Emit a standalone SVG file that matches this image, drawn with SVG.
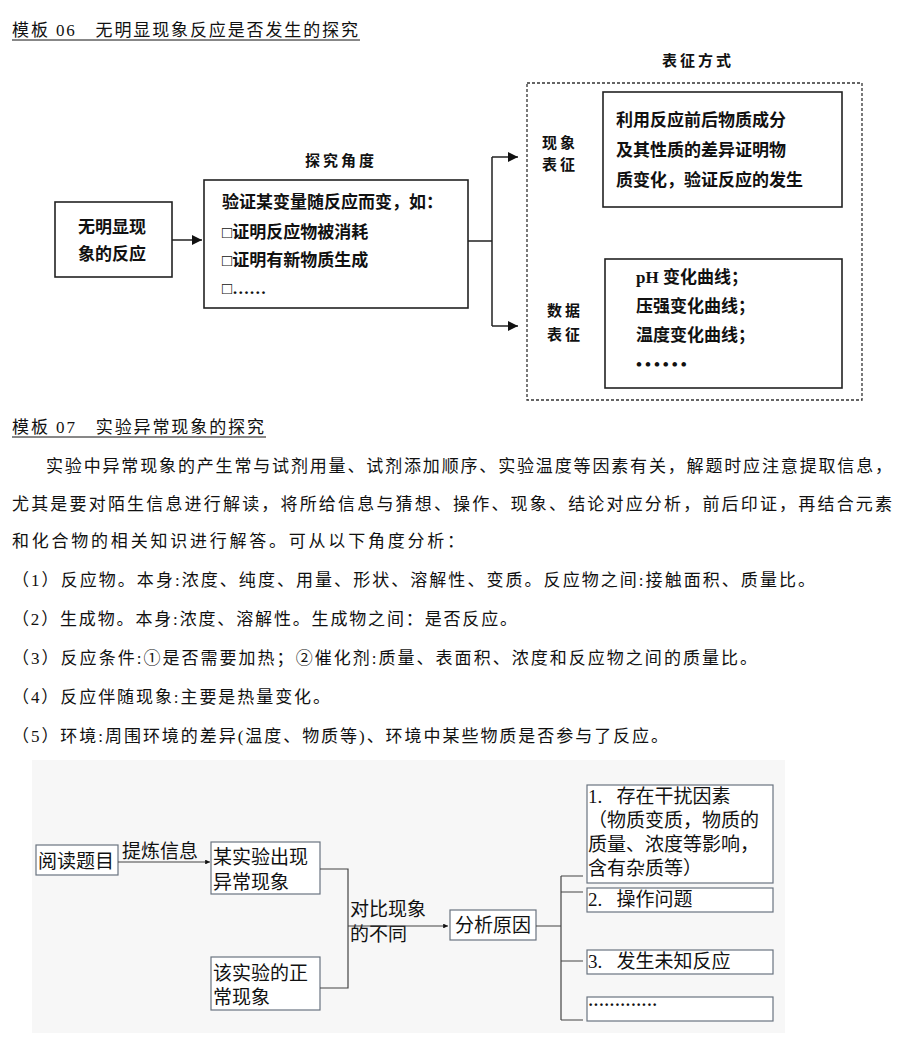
<svg xmlns="http://www.w3.org/2000/svg" width="912" height="1046" viewBox="0 0 912 1046">
<defs>
<style>
text{font-family:"Liberation Serif","Noto Sans CJK SC",serif;fill:#111}
.t{font-size:17px}
.b{font-size:17px;font-weight:bold}
.s{font-size:15px;font-weight:bold}
.box{fill:#fff;stroke:#222;stroke-width:1.6}
.gbox{fill:#fff;stroke:#6a7480;stroke-width:1.2}
.ln{fill:none;stroke:#222;stroke-width:1.5}
.gl{fill:none;stroke:#444;stroke-width:1.2}
</style>
<marker id="ar" viewBox="0 0 10 10" refX="10" refY="5" markerWidth="7" markerHeight="7" orient="auto"><path d="M0,0L10,5L0,10z" fill="#111"/></marker>
<marker id="as" viewBox="0 0 10 10" refX="10" refY="5" markerWidth="4" markerHeight="4" orient="auto"><path d="M0,0L10,5L0,10z" fill="#111"/></marker>
</defs>
<rect width="912" height="1046" fill="#fff"/>
<text class="t" x="12" y="36" textLength="346" lengthAdjust="spacing">模板 06　无明显现象反应是否发生的探究</text>
<line x1="12" y1="40" x2="360" y2="40" stroke="#111"/>
<text class="s" x="305" y="166" letter-spacing="3">探究角度</text>
<text class="s" x="662" y="66" letter-spacing="3">表征方式</text>

<g id="n1"><rect class="box" x="55" y="202" width="117" height="75"/><text class="b" x="78" y="233">无明显现</text><text class="b" x="78" y="260">象的反应</text></g>
<g id="n2"><rect class="box" x="204" y="180" width="264" height="128"/>
<text class="b" x="222" y="208">验证某变量随反应而变，如：</text>
<text class="b" x="222" y="238">□证明反应物被消耗</text>
<text class="b" x="222" y="266">□证明有新物质生成</text>
<text class="b" x="222" y="294">□……</text></g>
<g id="n3"><rect x="527" y="83" width="335" height="317" fill="none" stroke="#333" stroke-width="1.3" stroke-dasharray="3,2"/>
<text class="s" x="542" y="148" letter-spacing="3">现象</text><text class="s" x="542" y="170" letter-spacing="3">表征</text>
<text class="s" x="547" y="316" letter-spacing="3">数据</text><text class="s" x="547" y="340" letter-spacing="3">表征</text></g>
<g id="n4"><rect class="box" x="603" y="92" width="239" height="115"/>
<text class="b" x="616" y="126">利用反应前后物质成分</text>
<text class="b" x="616" y="156">及其性质的差异证明物</text>
<text class="b" x="616" y="186">质变化，验证反应的发生</text></g>
<g id="n5"><rect class="box" x="605" y="259" width="237" height="129"/>
<text class="b" x="636" y="283">pH 变化曲线；</text>
<text class="b" x="636" y="312">压强变化曲线；</text>
<text class="b" x="636" y="341">温度变化曲线；</text>
<text class="b" x="636" y="370" letter-spacing="3">••••••</text></g>

<text class="t" x="12" y="433" textLength="252" lengthAdjust="spacing">模板 07　实验异常现象的探究</text>
<line x1="12" y1="437" x2="266" y2="437" stroke="#111"/>
<text class="t" x="46" y="472" textLength="846" lengthAdjust="spacing">实验中异常现象的产生常与试剂用量、试剂添加顺序、实验温度等因素有关，解题时应注意提取信息，</text>
<text class="t" x="12" y="510" textLength="880" lengthAdjust="spacing">尤其是要对陌生信息进行解读，将所给信息与猜想、操作、现象、结论对应分析，前后印证，再结合元素</text>
<text class="t" x="12" y="547" textLength="452" lengthAdjust="spacing">和化合物的相关知识进行解答。可从以下角度分析：</text>
<text class="t" x="12" y="586" textLength="803" lengthAdjust="spacing">（1）反应物。本身:浓度、纯度、用量、形状、溶解性、变质。反应物之间:接触面积、质量比。</text>
<text class="t" x="12" y="625" textLength="505" lengthAdjust="spacing">（2）生成物。本身:浓度、溶解性。生成物之间：是否反应。</text>
<text class="t" x="12" y="664" textLength="745" lengthAdjust="spacing">（3）反应条件:①是否需要加热；②催化剂:质量、表面积、浓度和反应物之间的质量比。</text>
<text class="t" x="12" y="703" textLength="318" lengthAdjust="spacing">（4）反应伴随现象:主要是热量变化。</text>
<text class="t" x="12" y="742" textLength="656" lengthAdjust="spacing">（5）环境:周围环境的差异(温度、物质等)、环境中某些物质是否参与了反应。</text>

<rect x="32" y="760" width="753" height="273" fill="#f7f7f7"/>
<g id="m1"><rect class="gbox" x="36" y="845" width="82" height="30"/><text class="t" x="38" y="868" style="font-size:19px">阅读题目</text></g>
<text class="t" x="122" y="858" style="font-size:19px">提炼信息</text>
<g id="m2"><rect class="gbox" x="211" y="842" width="109" height="52"/><text class="t" x="213" y="864" style="font-size:19px">某实验出现</text><text class="t" x="213" y="889" style="font-size:19px">异常现象</text></g>
<g id="m3"><rect class="gbox" x="211" y="957" width="109" height="53"/><text class="t" x="213" y="980" style="font-size:19px">该实验的正</text><text class="t" x="213" y="1004" style="font-size:19px">常现象</text></g>
<text class="t" x="350" y="916" style="font-size:19px">对比现象</text>
<text class="t" x="350" y="941" style="font-size:19px">的不同</text>
<g id="m4"><rect class="gbox" x="450" y="910" width="86" height="30"/><text class="t" x="455" y="932" style="font-size:19px">分析原因</text></g>
<g id="m5"><rect class="gbox" x="587" y="785" width="186" height="98"/>
<text class="t" x="588" y="803" style="font-size:19px" xml:space="preserve">1.   存在干扰因素</text>
<text class="t" x="588" y="827" style="font-size:19px">（物质变质，物质的</text>
<text class="t" x="588" y="851" style="font-size:19px">质量、浓度等影响，</text>
<text class="t" x="588" y="875" style="font-size:19px">含有杂质等）</text></g>
<g id="m6"><rect class="gbox" x="587" y="888" width="186" height="24"/><text class="t" x="588" y="906" style="font-size:19px" xml:space="preserve">2.   操作问题</text></g>
<g id="m7"><rect class="gbox" x="587" y="950" width="186" height="24"/><text class="t" x="588" y="968" style="font-size:19px" xml:space="preserve">3.   发生未知反应</text></g>
<g id="m8"><rect class="gbox" x="587" y="997" width="186" height="24"/><text class="t" x="588" y="1010" style="font-size:16px;font-weight:bold">·············</text></g>

<g id="connectors">
<line class="ln" x1="172" y1="240" x2="202" y2="240" marker-end="url(#ar)"/>
<path class="ln" d="M468,241H492M492,157V326"/>
<path class="ln" d="M492,157H518" marker-end="url(#ar)"/>
<path class="ln" d="M492,326H518" marker-end="url(#ar)"/>
<line class="gl" x1="118" y1="862" x2="210" y2="862" marker-end="url(#as)"/>
<path class="gl" d="M320,869H348V988H320"/>
<line class="gl" x1="348" y1="926" x2="448" y2="926" marker-end="url(#as)"/>
<path class="gl" d="M536,926H561M561,876V1020M561,876H583M561,892H583M561,961H583M561,1020H583"/>
</g>
</svg>
